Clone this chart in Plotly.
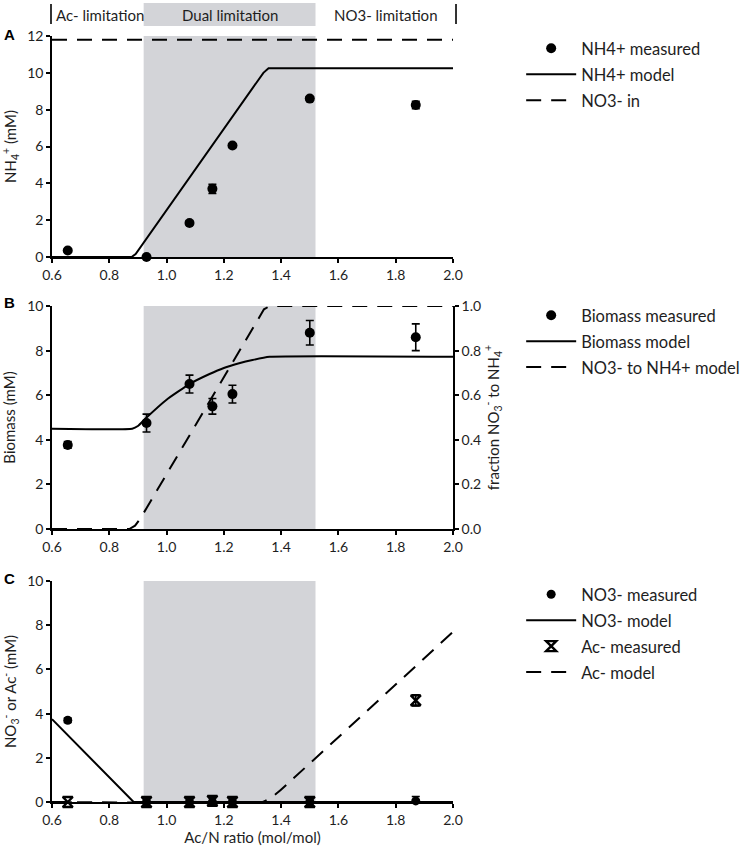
import plotly.graph_objects as go

# ---------------- data ----------------
ratio = [0.655, 0.93, 1.08, 1.16, 1.23, 1.50, 1.87]

nh4_meas = [0.35, 0.0, 1.85, 3.7, 6.05, 8.6, 8.25]
nh4_err = [0.05, 0.05, 0.1, 0.25, 0.1, 0.1, 0.2]
nh4_model_x = [0.6, 0.878, 0.892, 1.338, 1.356, 2.0]
nh4_model_y = [0.0, 0.0, 0.16, 10.0, 10.25, 10.25]
no3_in_x = [0.6, 2.0]
no3_in_y = [11.8, 11.8]

biomass_meas = [3.77, 4.75, 6.5, 5.5, 6.05, 8.8, 8.6]
biomass_err = [0.15, 0.4, 0.4, 0.35, 0.4, 0.55, 0.6]
biomass_model_x = [0.6, 0.88, 0.90, 0.93, 1.0, 1.08, 1.15, 1.2, 1.25, 1.3, 1.36, 2.0]
biomass_model_y = [4.5, 4.5, 4.62, 5.0, 5.8, 6.5, 6.95, 7.22, 7.42, 7.58, 7.72, 7.72]
frac_model_x = [0.6, 0.87, 0.89, 0.91, 1.34, 1.36, 2.0]
frac_model_y = [0.0, 0.0, 0.015, 0.05, 0.985, 1.0, 1.0]

no3_meas = [3.7, 0.0, 0.0, 0.0, 0.0, 0.0, 0.05]
no3_err = [0.1, 0.0, 0.0, 0.0, 0.0, 0.0, 0.2]
no3_model_x = [0.6, 0.885, 2.0]
no3_model_y = [3.75, 0.0, 0.0]
ac_meas = [0.0, 0.0, 0.0, 0.05, 0.0, 0.0, 4.6]
ac_err = [0.0, 0.0, 0.0, 0.15, 0.0, 0.0, 0.25]
ac_model_x = [0.6, 1.335, 1.36, 1.39, 2.0]
ac_model_y = [0.0, 0.0, 0.15, 0.45, 7.7]

dual_zone = [0.92, 1.52]
x_ticks = [0.6, 0.8, 1.0, 1.2, 1.4, 1.6, 1.8, 2.0]

# ---------------- style ----------------
FONT = "Lato"
TXT = "#1e1e1e"
GRAY = "#d3d4d8"
DASH = "15px,10px"

fig = go.Figure()

def err(vals):
    return dict(type="data", array=vals, visible=True, color="black", thickness=1.6, width=4)

# Panel A
fig.add_trace(go.Scatter(x=ratio, y=nh4_meas, mode="markers", name="NH4+ measured",
                         marker=dict(color="black", size=10), error_y=err(nh4_err),
                         xaxis="x", yaxis="y", legend="legend", legendgroup="a1", cliponaxis=False))
fig.add_trace(go.Scatter(x=nh4_model_x, y=nh4_model_y, mode="lines", name="NH4+ model",
                         line=dict(color="black", width=2),
                         xaxis="x", yaxis="y", legend="legend", legendgroup="a2"))
fig.add_trace(go.Scatter(x=no3_in_x, y=no3_in_y, mode="lines", name="NO3- in",
                         line=dict(color="black", width=2, dash=DASH),
                         xaxis="x", yaxis="y", legend="legend", legendgroup="a3"))

# Panel B
fig.add_trace(go.Scatter(x=ratio, y=biomass_meas, mode="markers", name="Biomass measured",
                         marker=dict(color="black", size=10), error_y=err(biomass_err),
                         xaxis="x2", yaxis="y2", legend="legend2", legendgroup="b1", cliponaxis=False))
fig.add_trace(go.Scatter(x=biomass_model_x, y=biomass_model_y, mode="lines", name="Biomass model",
                         line=dict(color="black", width=2, shape="spline", smoothing=0.4),
                         xaxis="x2", yaxis="y2", legend="legend2", legendgroup="b2"))
fig.add_trace(go.Scatter(x=frac_model_x, y=frac_model_y, mode="lines", name="NO3- to NH4+ model",
                         line=dict(color="black", width=2, dash=DASH),
                         xaxis="x2", yaxis="y3", legend="legend2", legendgroup="b3"))

# Panel C
fig.add_trace(go.Scatter(x=ratio, y=no3_meas, mode="markers", name="NO3- measured",
                         marker=dict(color="black", size=9), error_y=err(no3_err),
                         xaxis="x3", yaxis="y4", legend="legend3", legendgroup="c1", cliponaxis=False))
fig.add_trace(go.Scatter(x=no3_model_x, y=no3_model_y, mode="lines", name="NO3- model",
                         line=dict(color="black", width=2),
                         xaxis="x3", yaxis="y4", legend="legend3", legendgroup="c2"))
fig.add_trace(go.Scatter(x=ratio, y=ac_meas, mode="markers", name="Ac- measured",
                         marker=dict(color="black", size=10, symbol="hourglass-open",
                                     line=dict(color="black", width=2.4)),
                         error_y=err(ac_err),
                         xaxis="x3", yaxis="y4", legend="legend3", legendgroup="c3", cliponaxis=False))
fig.add_trace(go.Scatter(x=ac_model_x, y=ac_model_y, mode="lines", name="Ac- model",
                         line=dict(color="black", width=2, dash=DASH, shape="spline", smoothing=0.3),
                         xaxis="x3", yaxis="y4", legend="legend3", legendgroup="c4"))

axis_common = dict(showline=True, linecolor="black", linewidth=1.6, ticks="outside",
                   ticklen=4, tickwidth=1.5, tickcolor="black", showgrid=False, zeroline=False,
                   tickfont=dict(family=FONT, size=14, color=TXT))
xcommon = dict(axis_common, range=[0.6, 2.0], tickvals=x_ticks, tickformat=".1f")

title_font = dict(family=FONT, size=15, color=TXT)
leg_font = dict(family=FONT, size=16.5, color=TXT)
leg_common = dict(x=1.17, xanchor="left", yanchor="top", itemwidth=50,
                  tracegroupgap=1.5, font=leg_font, bgcolor="rgba(0,0,0,0)")

fig.update_layout(
    width=742, height=851,
    plot_bgcolor="white", paper_bgcolor="white",
    margin=dict(l=52, r=289, t=36, b=49, autoexpand=False),
    font=dict(family=FONT, size=14, color=TXT),
    xaxis=dict(xcommon, domain=[0, 1], anchor="y"),
    yaxis=dict(axis_common, domain=[0.7115, 1.0], range=[0, 12], dtick=2, anchor="x",
               title=dict(text="NH<sub>4</sub><sup>+</sup> (mM)", font=title_font, standoff=10)),
    xaxis2=dict(xcommon, domain=[0, 1], anchor="y2"),
    yaxis2=dict(axis_common, domain=[0.3564, 0.6475], range=[0, 10], dtick=2, anchor="x2",
                title=dict(text="Biomass (mM)", font=title_font, standoff=10)),
    yaxis3=dict(axis_common, range=[0, 1], dtick=0.2, tickformat=".1f", overlaying="y2",
                side="right", anchor="x2",
                title=dict(text="fraction NO<sub>3</sub><sup>-</sup> to NH<sub>4</sub><sup>+</sup>",
                           font=title_font, standoff=8)),
    xaxis3=dict(xcommon, domain=[0, 1], anchor="y4",
                title=dict(text="Ac/N ratio (mol/mol)", font=title_font, standoff=4)),
    yaxis4=dict(axis_common, domain=[0.0, 0.2885], range=[0, 10], dtick=2, anchor="x3",
                title=dict(text="NO<sub>3</sub><sup>-</sup> or Ac<sup>-</sup> (mM)", font=title_font, standoff=10)),
    legend=dict(leg_common, y=1.0065),
    legend2=dict(leg_common, y=0.658),
    legend3=dict(leg_common, y=0.2937),
)

# shaded dual-limitation zones
for xr, yr in [("x", "y domain"), ("x2", "y2 domain"), ("x3", "y4 domain")]:
    fig.add_shape(type="rect", xref=xr, yref=yr, x0=dual_zone[0], x1=dual_zone[1], y0=0, y1=1,
                  fillcolor=GRAY, line=dict(width=0), layer="below")

# header band
fig.add_shape(type="rect", xref="x", yref="paper", x0=dual_zone[0], x1=dual_zone[1],
              y0=1.0131, y1=1.043, fillcolor=GRAY, line=dict(width=0), layer="below")
for xp in [-0.0025, 1.0075]:
    fig.add_shape(type="line", xref="paper", yref="paper", x0=xp, x1=xp, y0=1.0157, y1=1.0418,
                  line=dict(color="black", width=1.6))

hdr_font = dict(family=FONT, size=15, color=TXT)
fig.add_annotation(text="Ac- limitation", xref="x", yref="paper", x=0.606, y=1.0274,
                   xanchor="left", yanchor="middle", showarrow=False, font=hdr_font)
fig.add_annotation(text="Dual limitation", xref="x", yref="paper", x=1.22, y=1.0274,
                   xanchor="center", yanchor="middle", showarrow=False, font=hdr_font)
fig.add_annotation(text="NO3- limitation", xref="x", yref="paper", x=1.766, y=1.0274,
                   xanchor="center", yanchor="middle", showarrow=False, font=hdr_font)

lab_font = dict(family="Liberation Sans", size=15, color="black")
for lab, yp in [("A", 1.0026), ("B", 0.6527), ("C", 0.2924)]:
    fig.add_annotation(text="<b>%s</b>" % lab, xref="paper", yref="paper", x=-0.105, y=yp,
                       xanchor="center", yanchor="middle", showarrow=False, font=lab_font)

fig.write_html("out.html", config={"displayModeBar": False},
               post_script="document.body.style.margin='0';document.body.style.overflow='hidden';")
